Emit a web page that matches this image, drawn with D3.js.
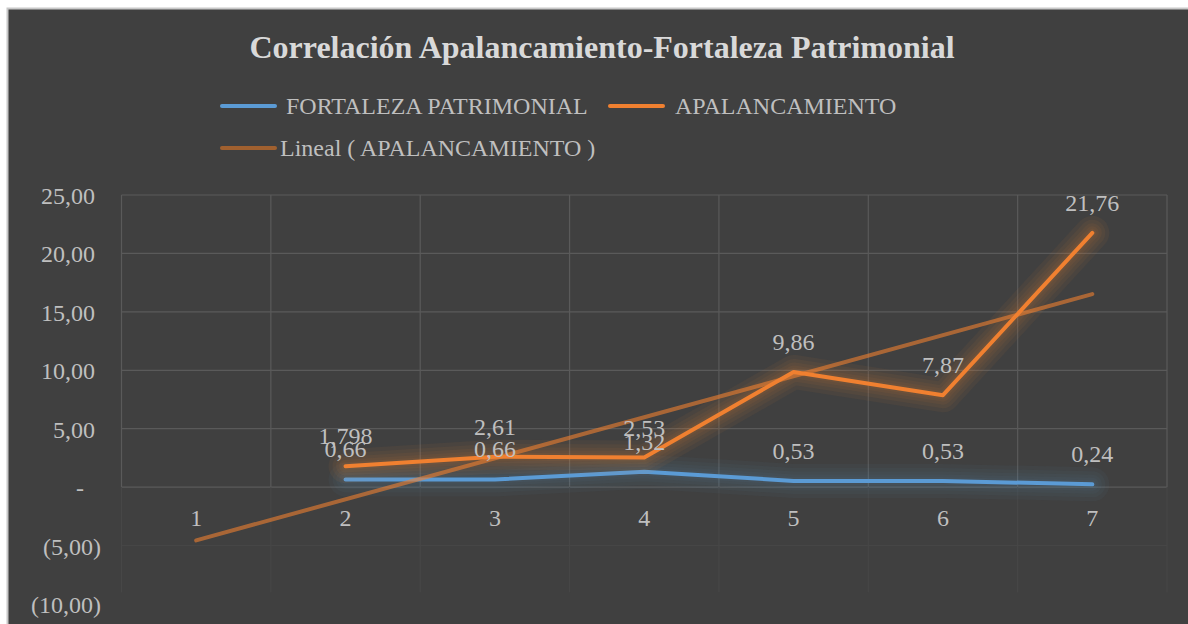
<!DOCTYPE html>
<html>
<head>
<meta charset="utf-8">
<script src="https://cdn.jsdelivr.net/npm/d3@7"></script>
<style>
  html, body { margin: 0; padding: 0; background: #fff; }
  svg { display: block; }
</style>
</head>
<body>
<div id="chart"></div>
<script>
// chart data
const categories = ["1", "2", "3", "4", "5", "6", "7"];
const fortaleza = [null, 0.66, 0.66, 1.32, 0.53, 0.53, 0.24];
const apalancamiento = [null, 1.798, 2.61, 2.53, 9.86, 7.87, 21.76];
const apalancamientoLabels = [null, "1,798", "2,61", "2,53", "9,86", "7,87", "21,76"];
const fortalezaLabels = [null, "0,66", "0,66", "1,32", "0,53", "0,53", "0,24"];
const yTicks = [-10, -5, 0, 5, 10, 15, 20, 25];
const yTickLabels = ["(10,00)", "(5,00)", "-", "5,00", "10,00", "15,00", "20,00", "25,00"];

const width = 1188, height = 624;
const font = "'Liberation Serif', 'Times New Roman', serif";
const blue = "#5b9bd5", orange = "#f08030", trendColor = "#a0602f";

const svg = d3.select("#chart").append("svg")
    .attr("width", width)
    .attr("height", height);

// outer frame
svg.append("rect").attr("x", 7.5).attr("y", 8.5).attr("width", width).attr("height", height)
    .attr("fill", "#404040").attr("stroke", "#c8c8c8").attr("stroke-width", 2);

const x = d3.scaleBand().domain(categories).range([121.5, 1167]);
const y = d3.scaleLinear().domain([-10, 25]).range([604, 195]);

// gridlines
const grid = svg.append("g");
yTicks.filter(t => t >= 0).forEach(t => {
  grid.append("line").attr("x1", x.range()[0]).attr("x2", x.range()[1])
      .attr("y1", y(t)).attr("y2", y(t)).attr("stroke", "#5a5a5a").attr("stroke-width", 1.2);
});
yTicks.filter(t => t < 0 && t > -10).forEach(t => {
  grid.append("line").attr("x1", x.range()[0]).attr("x2", x.range()[1])
      .attr("y1", y(t)).attr("y2", y(t)).attr("stroke", "#474747").attr("stroke-width", 1);
});
const bounds = categories.map(c => x(c)).concat([x.range()[1]]);
bounds.forEach(bx => {
  grid.append("line").attr("x1", bx).attr("x2", bx)
      .attr("y1", y(25)).attr("y2", y(0)).attr("stroke", "#5a5a5a").attr("stroke-width", 1.2);
  grid.append("line").attr("x1", bx).attr("x2", bx)
      .attr("y1", y(0)).attr("y2", y(-9)).attr("stroke", "#474747").attr("stroke-width", 1);
});

// y axis labels
svg.append("g").selectAll("text").data(yTicks).join("text")
    .attr("x", d => d < 0 ? 101 : (d === 0 ? 84 : 95))
    .attr("y", d => y(d) + 9)
    .attr("text-anchor", "end")
    .attr("font-family", font).attr("font-size", 24).attr("fill", "#bfbfbf")
    .text((d, i) => yTickLabels[i]);

// category labels
svg.append("g").selectAll("text").data(categories).join("text")
    .attr("x", d => x(d) + x.bandwidth() / 2)
    .attr("y", y(0) + 39)
    .attr("text-anchor", "middle")
    .attr("font-family", font).attr("font-size", 24).attr("fill", "#bfbfbf")
    .text(d => d);

const cx = d => x(d) + x.bandwidth() / 2;
const line = d3.line().defined(d => d[1] != null).x(d => cx(d[0])).y(d => y(d[1]));

// linear trend of APALANCAMIENTO
const pts = categories.map((c, i) => [i + 1, apalancamiento[i]]).filter(d => d[1] != null);
const mx = d3.mean(pts, d => d[0]), my = d3.mean(pts, d => d[1]);
const slope = d3.sum(pts, d => (d[0] - mx) * (d[1] - my)) / d3.sum(pts, d => (d[0] - mx) ** 2);
const trend = categories.map((c, i) => [c, my + slope * (i + 1 - mx)]);

// a series line with a soft glow made of wide faint strokes
function glowLine(data, color, glowOpacity) {
  const g = svg.append("g");
  [34, 26, 19, 13, 8].forEach(w => {
    g.append("path").datum(data).attr("d", line).attr("fill", "none")
        .attr("stroke", color).attr("stroke-opacity", glowOpacity).attr("stroke-width", w)
        .attr("stroke-linecap", "round").attr("stroke-linejoin", "round");
  });
  g.append("path").datum(data).attr("d", line).attr("fill", "none")
      .attr("stroke", color).attr("stroke-width", 4)
      .attr("stroke-linecap", "round").attr("stroke-linejoin", "round");
}
glowLine(categories.map((c, i) => [c, fortaleza[i]]), blue, 0.045);
glowLine(categories.map((c, i) => [c, apalancamiento[i]]), orange, 0.06);

svg.append("path")
    .datum([trend[0], trend[trend.length - 1]])
    .attr("d", line).attr("fill", "none").attr("stroke", orange).attr("stroke-opacity", 0.6)
    .attr("stroke-width", 4).attr("stroke-linecap", "round");

// data labels
function labels(values, texts) {
  svg.append("g").selectAll("text")
    .data(categories.map((c, i) => [c, values[i], texts[i]]).filter(d => d[1] != null))
    .join("text")
      .attr("x", d => cx(d[0]))
      .attr("y", d => y(d[1]) - 22)
      .attr("text-anchor", "middle")
      .attr("font-family", font).attr("font-size", 24).attr("fill", "#bfbfbf")
      .text(d => d[2]);
}
labels(apalancamiento, apalancamientoLabels);
labels(fortaleza, fortalezaLabels);

// title
svg.append("text").attr("x", 602).attr("y", 58).attr("text-anchor", "middle")
    .attr("font-family", font).attr("font-size", 32).attr("font-weight", "bold")
    .attr("fill", "#d9d9d9")
    .text("Correlación Apalancamiento-Fortaleza Patrimonial");

// legend
const legend = [
  {label: "FORTALEZA PATRIMONIAL", color: blue, x: 222, y: 106, tx: 286},
  {label: "APALANCAMIENTO", color: orange, x: 610, y: 106, tx: 675},
  {label: "Lineal ( APALANCAMIENTO )", color: trendColor, x: 222, y: 148, tx: 280}
];
const lg = svg.append("g").selectAll("g").data(legend).join("g");
lg.append("line").attr("x1", d => d.x).attr("x2", d => d.x + 53)
    .attr("y1", d => d.y).attr("y2", d => d.y)
    .attr("stroke", d => d.color).attr("stroke-width", 4).attr("stroke-linecap", "round");
lg.append("text").attr("x", d => d.tx).attr("y", d => d.y + 8)
    .attr("font-family", font).attr("font-size", 24).attr("fill", "#bfbfbf")
    .text(d => d.label);
</script>
</body>
</html>
